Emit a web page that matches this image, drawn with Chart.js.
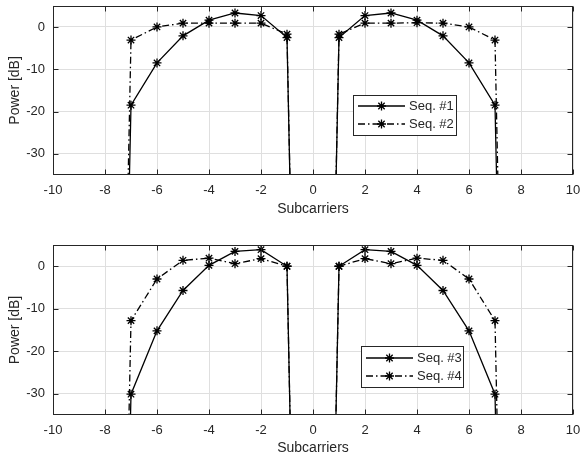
<!DOCTYPE html>
<html>
<head>
<meta charset="utf-8">
<script src="https://cdn.jsdelivr.net/npm/chart.js@4/dist/chart.umd.min.js"></script>
<style>
  body { margin: 0; background: #fff; }
  #wrap { position: relative; width: 581px; height: 462px; }
  canvas { position: absolute; left: 0; }
</style>
</head>
<body>
<div id="wrap">
  <canvas id="top" width="581" height="231" style="top:0"></canvas>
  <canvas id="bottom" width="581" height="231" style="top:231px"></canvas>
</div>
<script>
// subcarrier index; -8, 0 and 8 are empty (power far below the axis)
const subcarriers = [-8, -7, -6, -5, -4, -3, -2, -1, 0, 1, 2, 3, 4, 5, 6, 7, 8];
const seq1 = [-300, -18.5, -8.5, -2.1, 1.6, 3.3, 2.7, -2.5, -300, -2.5, 2.7, 3.3, 1.6, -2.1, -8.5, -18.5, -300];
const seq2 = [-300, -3.1, 0.0, 0.9, 0.9, 0.9, 0.9, -1.7, -300, -1.7, 0.9, 0.9, 1.0, 0.9, 0.0, -3.1, -300];
const seq3 = [-300, -30.1, -15.2, -5.7, 0.2, 3.5, 3.9, 0.0, -300, 0.0, 3.9, 3.5, 0.2, -5.7, -15.2, -30.1, -300];
const seq4 = [-300, -12.8, -3.0, 1.4, 1.9, 0.6, 1.8, 0.0, -300, 0.0, 1.8, 0.6, 1.9, 1.4, -3.0, -12.8, -300];

const xTicks = [-10, -8, -6, -4, -2, 0, 2, 4, 6, 8, 10];
const yTicks = [-30, -20, -10, 0];

const FONT = "'Liberation Sans', Arial, Helvetica, sans-serif";
const INK = "#262626";
const DASHDOT = [7, 3, 1.5, 3];
const LW = 1.3;

const pts = (ys) => subcarriers.map((x, i) => ({ x: x, y: ys[i] }));

function series(label, ys, dash) {
  return {
    label: label,
    data: pts(ys),
    borderColor: "#000",
    borderWidth: LW,
    borderDash: dash,
    pointStyle: "star",
    pointRadius: 4.5,
    pointBorderColor: "#000",
    pointBorderWidth: LW,
    pointBackgroundColor: "#000",
    tension: 0
  };
}

// box around the axes, inward ticks on all sides, and the legend
const matlabAxes = {
  id: "matlabAxes",
  afterDatasetsDraw(chart, args, opts) {
    const { ctx, chartArea: a, scales } = chart;
    const L = Math.round(a.left) + 0.5, R = Math.round(a.right) - 0.5;
    const T = Math.round(a.top) + 0.5, B = Math.round(a.bottom) - 0.5;
    ctx.save();
    ctx.setLineDash([]);
    ctx.strokeStyle = INK;
    ctx.lineWidth = 1;
    ctx.strokeRect(L, T, R - L, B - T);
    const t = 5;
    ctx.beginPath();
    scales.x.ticks.forEach(tk => {
      const px = Math.round(scales.x.getPixelForValue(tk.value)) + 0.5;
      ctx.moveTo(px, B); ctx.lineTo(px, B - t);
      ctx.moveTo(px, T); ctx.lineTo(px, T + t);
    });
    scales.y.ticks.forEach(tk => {
      const py = Math.round(scales.y.getPixelForValue(tk.value)) + 0.5;
      ctx.moveTo(L, py); ctx.lineTo(L + t, py);
      ctx.moveTo(R, py); ctx.lineTo(R - t, py);
    });
    ctx.stroke();

    // legend
    const lb = opts.box;
    ctx.fillStyle = "#fff";
    ctx.fillRect(lb.x, lb.y, lb.w, lb.h);
    ctx.strokeStyle = INK;
    ctx.strokeRect(lb.x + 0.5, lb.y + 0.5, lb.w, lb.h);
    chart.data.datasets.forEach((ds, i) => {
      const cy = lb.y + lb.row0 + i * lb.rowGap;
      ctx.strokeStyle = "#000";
      ctx.lineWidth = LW;
      ctx.setLineDash(ds.borderDash || []);
      ctx.beginPath();
      ctx.moveTo(lb.x + 5, cy);
      ctx.lineTo(lb.x + 52, cy);
      ctx.stroke();
      ctx.setLineDash([]);
      ctx.fillStyle = "#000";
      Chart.helpers.drawPoint(ctx, { pointStyle: "star", radius: 4.5, rotation: 0, borderWidth: LW }, lb.x + 28.5, cy);
      ctx.fillStyle = INK;
      ctx.font = "13px " + FONT;
      ctx.textBaseline = "middle";
      ctx.textAlign = "left";
      ctx.fillText(ds.label, lb.x + 56, cy + 0.5);
    });
    ctx.restore();
  }
};

function makeChart(id, datasets, padTop, xHeight, titlePad, legendBox) {
  return new Chart(document.getElementById(id), {
    type: "line",
    data: { datasets: datasets },
    plugins: [matlabAxes],
    options: {
      responsive: false,
      animation: false,
      layout: { padding: { top: padTop, right: 8, left: 0, bottom: 0 } },
      plugins: {
        legend: { display: false },
        tooltip: { enabled: false },
        matlabAxes: { box: legendBox }
      },
      scales: {
        x: {
          type: "linear",
          min: -10,
          max: 10,
          afterBuildTicks: s => { s.ticks = xTicks.map(v => ({ value: v })); },
          afterFit: s => { s.height = xHeight; s.paddingLeft = 0; s.paddingRight = 0; },
          grid: { color: "#dfdfdf", drawTicks: false },
          border: { display: false },
          ticks: { color: INK, font: { family: FONT, size: 13 }, padding: 8, maxRotation: 0 },
          title: { display: true, text: "Subcarriers", color: INK, font: { family: FONT, size: 14 }, padding: { top: 0, bottom: titlePad } }
        },
        y: {
          min: -35,
          max: 5,
          afterBuildTicks: s => { s.ticks = yTicks.map(v => ({ value: v })); },
          afterFit: s => { s.width = 53; s.paddingTop = 0; s.paddingBottom = 0; },
          grid: { color: "#dfdfdf", drawTicks: false },
          border: { display: false },
          ticks: { color: INK, font: { family: FONT, size: 13 }, padding: 8 },
          title: { display: true, text: "Power [dB]", color: INK, font: { family: FONT, size: 14 }, padding: { top: 7, bottom: 0 } }
        }
      }
    }
  });
}

makeChart("top", [series("Seq. #1", seq1, []), series("Seq. #2", seq2, DASHDOT)],
  5, 56, 13, { x: 353, y: 95, w: 103, h: 40, row0: 11, rowGap: 18 });
makeChart("bottom", [series("Seq. #3", seq3, []), series("Seq. #4", seq4, DASHDOT)],
  14, 47, 5, { x: 361, y: 115, w: 102, h: 41, row0: 12, rowGap: 18 });
</script>
</body>
</html>
